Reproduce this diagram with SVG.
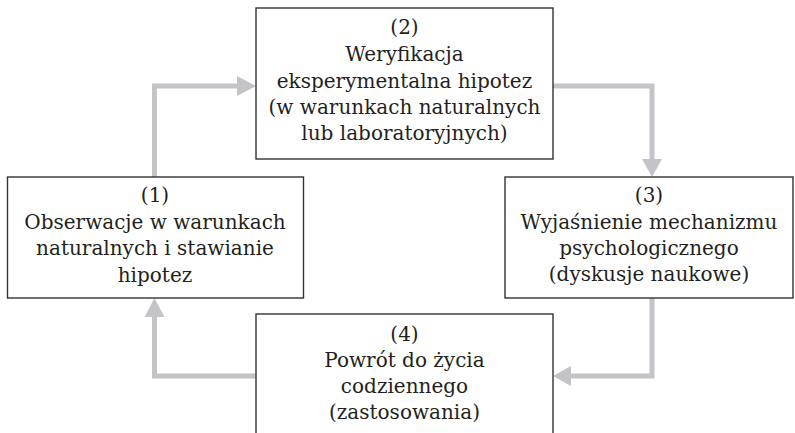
<svg xmlns="http://www.w3.org/2000/svg" width="795" height="433" viewBox="0 0 795 433">
<style>
.box{fill:#fff;stroke:#333;stroke-width:1.4}
.t{font-family:'DejaVu Serif','Liberation Serif',serif;font-size:20px;fill:#231f20;text-anchor:middle}
.ln{fill:none;stroke:#c4c4c8;stroke-width:5;stroke-linejoin:miter}
.hd{fill:#c4c4c8}
</style>
<rect width="795" height="433" fill="#fff"/>
<g id="connectors">
<path class="ln" d="M154.5,177 V86 H238"/>
<polygon class="hd" points="256,86 237,76 237,96"/>
<path class="ln" d="M553,86 H652 V160"/>
<polygon class="hd" points="652,177 642,159 662,159"/>
<path class="ln" d="M652,298 V376 H571"/>
<polygon class="hd" points="553,376 571,366 571,386"/>
<path class="ln" d="M256,376 H154.5 V316"/>
<polygon class="hd" points="154.5,298 144.5,317 164.5,317"/>
</g>
<g id="node1">
<rect class="box" x="7.5" y="177" width="296" height="121"/>
<text class="t" x="155" y="202">(1)</text>
<text class="t" x="155" y="228.5">Obserwacje w warunkach</text>
<text class="t" x="155" y="255">naturalnych i stawianie</text>
<text class="t" x="155" y="281.5">hipotez</text>
</g>
<g id="node2">
<rect class="box" x="256" y="8" width="297" height="151"/>
<text class="t" x="404.5" y="34">(2)</text>
<text class="t" x="404.5" y="61">Weryfikacja</text>
<text class="t" x="404.5" y="87.5">eksperymentalna hipotez</text>
<text class="t" x="404.5" y="114">(w warunkach naturalnych</text>
<text class="t" x="404.5" y="140">lub laboratoryjnych)</text>
</g>
<g id="node3">
<rect class="box" x="505" y="177" width="288" height="121"/>
<text class="t" x="649" y="202">(3)</text>
<text class="t" x="649" y="228.5">Wyjaśnienie mechanizmu</text>
<text class="t" x="649" y="254.5">psychologicznego</text>
<text class="t" x="649" y="281">(dyskusje naukowe)</text>
</g>
<g id="node4">
<rect class="box" x="256" y="314" width="297" height="140"/>
<text class="t" x="404.5" y="341">(4)</text>
<text class="t" x="404.5" y="367">Powrót do życia</text>
<text class="t" x="404.5" y="393">codziennego</text>
<text class="t" x="404.5" y="419">(zastosowania)</text>
</g>
</svg>
